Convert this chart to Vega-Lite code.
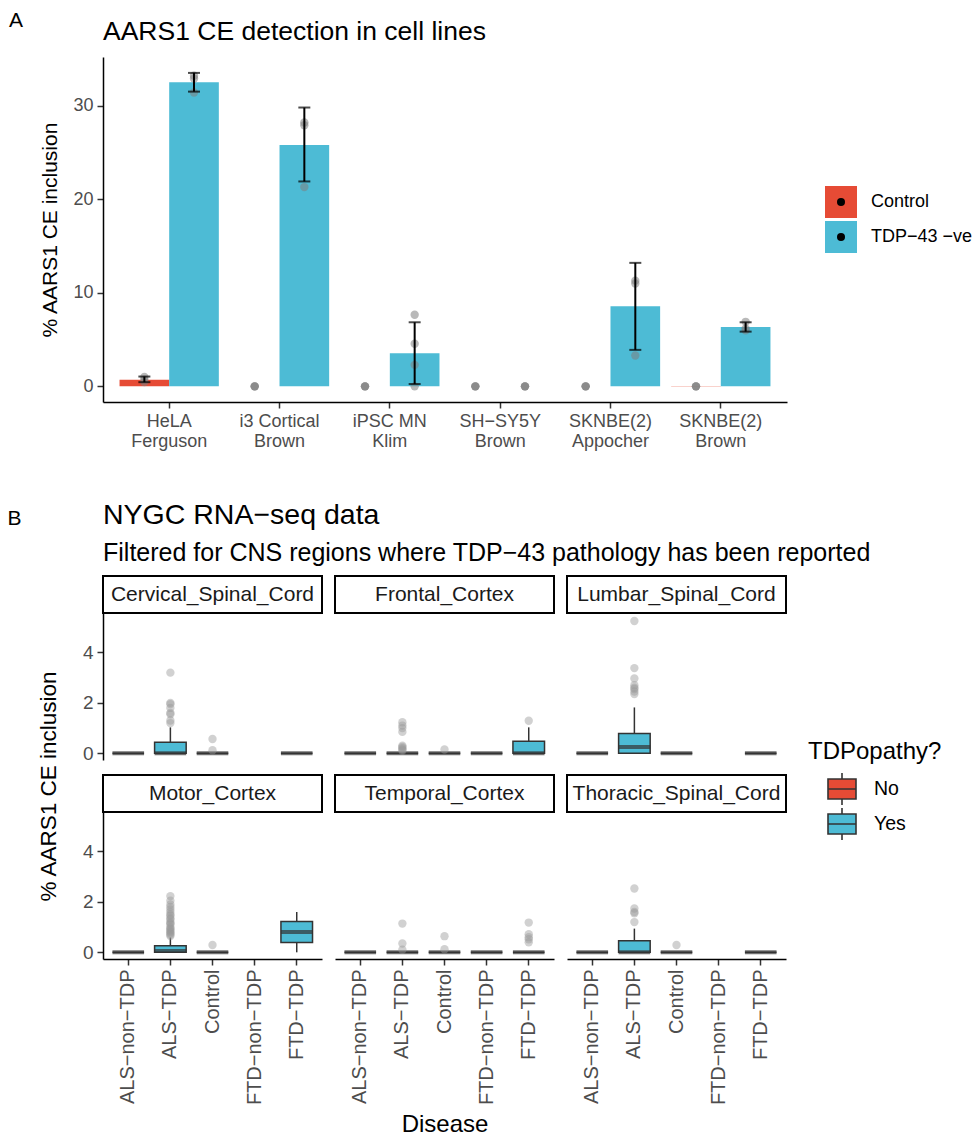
{
  "$schema": "https://vega.github.io/schema/vega-lite/v6.json",
  "background": "white",
  "padding": {"left": 7, "top": 9, "right": 0, "bottom": 0},
  "config": {
    "font": "Liberation Sans",
    "view": {"stroke": null},
    "axis": {"grid": false, "domainColor": "black", "domainWidth": 1.5, "tickColor": "#333333", "tickWidth": 1.5, "tickSize": 6, "labelColor": "#4d4d4d", "labelFontSize": 18, "titleFontSize": 21, "titleFontWeight": "normal", "titleColor": "black", "labelPadding": 4},
    "title": {"color": "black", "fontWeight": "normal"},
    "legend": {"labelFontSize": 18, "labelColor": "black", "titleFontSize": 21, "titleFontWeight": "normal", "titleColor": "black"}
  },
  "datasets": {
    "bars": [
      {"line": "HeLA|Ferguson", "cond": "Control", "mean": 0.7},
      {"line": "HeLA|Ferguson", "cond": "TDP−43 −ve", "mean": 32.5},
      {"line": "i3 Cortical|Brown", "cond": "Control", "mean": 0},
      {"line": "i3 Cortical|Brown", "cond": "TDP−43 −ve", "mean": 25.8},
      {"line": "iPSC MN|Klim", "cond": "Control", "mean": 0},
      {"line": "iPSC MN|Klim", "cond": "TDP−43 −ve", "mean": 3.55},
      {"line": "SH−SY5Y|Brown", "cond": "Control", "mean": 0},
      {"line": "SH−SY5Y|Brown", "cond": "TDP−43 −ve", "mean": 0},
      {"line": "SKNBE(2)|Appocher", "cond": "Control", "mean": 0},
      {"line": "SKNBE(2)|Appocher", "cond": "TDP−43 −ve", "mean": 8.55},
      {"line": "SKNBE(2)|Brown", "cond": "Control", "mean": 0.04},
      {"line": "SKNBE(2)|Brown", "cond": "TDP−43 −ve", "mean": 6.35}
    ],
    "errs": [
      {"line": "HeLA|Ferguson", "cond": "Control", "lo": 0.45, "hi": 1.05},
      {"line": "HeLA|Ferguson", "cond": "TDP−43 −ve", "lo": 31.5, "hi": 33.5},
      {"line": "i3 Cortical|Brown", "cond": "TDP−43 −ve", "lo": 21.9, "hi": 29.8},
      {"line": "iPSC MN|Klim", "cond": "TDP−43 −ve", "lo": 0.25, "hi": 6.85},
      {"line": "SKNBE(2)|Appocher", "cond": "TDP−43 −ve", "lo": 3.9, "hi": 13.2},
      {"line": "SKNBE(2)|Brown", "cond": "TDP−43 −ve", "lo": 5.85, "hi": 6.85}
    ],
    "pts": [
      {"line": "HeLA|Ferguson", "cond": "Control", "value": 0.45},
      {"line": "HeLA|Ferguson", "cond": "Control", "value": 0.7},
      {"line": "HeLA|Ferguson", "cond": "Control", "value": 1.0},
      {"line": "HeLA|Ferguson", "cond": "TDP−43 −ve", "value": 31.4},
      {"line": "HeLA|Ferguson", "cond": "TDP−43 −ve", "value": 32.9},
      {"line": "HeLA|Ferguson", "cond": "TDP−43 −ve", "value": 33.2},
      {"line": "i3 Cortical|Brown", "cond": "Control", "value": 0},
      {"line": "i3 Cortical|Brown", "cond": "Control", "value": 0},
      {"line": "i3 Cortical|Brown", "cond": "Control", "value": 0},
      {"line": "i3 Cortical|Brown", "cond": "TDP−43 −ve", "value": 28.2},
      {"line": "i3 Cortical|Brown", "cond": "TDP−43 −ve", "value": 27.9},
      {"line": "i3 Cortical|Brown", "cond": "TDP−43 −ve", "value": 21.3},
      {"line": "iPSC MN|Klim", "cond": "Control", "value": 0},
      {"line": "iPSC MN|Klim", "cond": "Control", "value": 0},
      {"line": "iPSC MN|Klim", "cond": "Control", "value": 0},
      {"line": "iPSC MN|Klim", "cond": "TDP−43 −ve", "value": 7.65},
      {"line": "iPSC MN|Klim", "cond": "TDP−43 −ve", "value": 4.55},
      {"line": "iPSC MN|Klim", "cond": "TDP−43 −ve", "value": 2.3},
      {"line": "iPSC MN|Klim", "cond": "TDP−43 −ve", "value": 0},
      {"line": "SH−SY5Y|Brown", "cond": "Control", "value": 0},
      {"line": "SH−SY5Y|Brown", "cond": "Control", "value": 0},
      {"line": "SH−SY5Y|Brown", "cond": "Control", "value": 0},
      {"line": "SH−SY5Y|Brown", "cond": "TDP−43 −ve", "value": 0},
      {"line": "SH−SY5Y|Brown", "cond": "TDP−43 −ve", "value": 0},
      {"line": "SH−SY5Y|Brown", "cond": "TDP−43 −ve", "value": 0},
      {"line": "SKNBE(2)|Appocher", "cond": "Control", "value": 0},
      {"line": "SKNBE(2)|Appocher", "cond": "Control", "value": 0},
      {"line": "SKNBE(2)|Appocher", "cond": "Control", "value": 0},
      {"line": "SKNBE(2)|Appocher", "cond": "TDP−43 −ve", "value": 11.3},
      {"line": "SKNBE(2)|Appocher", "cond": "TDP−43 −ve", "value": 11.0},
      {"line": "SKNBE(2)|Appocher", "cond": "TDP−43 −ve", "value": 3.3},
      {"line": "SKNBE(2)|Brown", "cond": "Control", "value": 0},
      {"line": "SKNBE(2)|Brown", "cond": "Control", "value": 0},
      {"line": "SKNBE(2)|Brown", "cond": "Control", "value": 0},
      {"line": "SKNBE(2)|Brown", "cond": "TDP−43 −ve", "value": 6.9},
      {"line": "SKNBE(2)|Brown", "cond": "TDP−43 −ve", "value": 6.2},
      {"line": "SKNBE(2)|Brown", "cond": "TDP−43 −ve", "value": 6.0}
    ],
    "strips": [
      {"region": "Cervical_Spinal_Cord"},
      {"region": "Frontal_Cortex"},
      {"region": "Lumbar_Spinal_Cord"},
      {"region": "Motor_Cortex"},
      {"region": "Temporal_Cortex"},
      {"region": "Thoracic_Spinal_Cord"}
    ],
    "bdata": [
      {"kind": "box", "region": "Cervical_Spinal_Cord", "disease": "ALS−non−TDP", "tdp": "No", "lo": 0, "q1": 0, "med": 0, "q3": 0, "hi": 0},
      {"kind": "box", "region": "Cervical_Spinal_Cord", "disease": "ALS−TDP", "tdp": "Yes", "lo": 0, "q1": 0, "med": 0, "q3": 0.44, "hi": 1.03},
      {"kind": "box", "region": "Cervical_Spinal_Cord", "disease": "Control", "tdp": "No", "lo": 0, "q1": 0, "med": 0, "q3": 0, "hi": 0},
      {"kind": "box", "region": "Cervical_Spinal_Cord", "disease": "FTD−TDP", "tdp": "Yes", "lo": 0, "q1": 0, "med": 0, "q3": 0, "hi": 0},
      {"kind": "box", "region": "Frontal_Cortex", "disease": "ALS−non−TDP", "tdp": "No", "lo": 0, "q1": 0, "med": 0, "q3": 0, "hi": 0},
      {"kind": "box", "region": "Frontal_Cortex", "disease": "ALS−TDP", "tdp": "Yes", "lo": 0, "q1": 0, "med": 0, "q3": 0, "hi": 0},
      {"kind": "box", "region": "Frontal_Cortex", "disease": "Control", "tdp": "No", "lo": 0, "q1": 0, "med": 0, "q3": 0, "hi": 0},
      {"kind": "box", "region": "Frontal_Cortex", "disease": "FTD−non−TDP", "tdp": "No", "lo": 0, "q1": 0, "med": 0, "q3": 0, "hi": 0},
      {"kind": "box", "region": "Frontal_Cortex", "disease": "FTD−TDP", "tdp": "Yes", "lo": 0, "q1": 0, "med": 0, "q3": 0.48, "hi": 1.03},
      {"kind": "box", "region": "Lumbar_Spinal_Cord", "disease": "ALS−non−TDP", "tdp": "No", "lo": 0, "q1": 0, "med": 0, "q3": 0, "hi": 0},
      {"kind": "box", "region": "Lumbar_Spinal_Cord", "disease": "ALS−TDP", "tdp": "Yes", "lo": 0, "q1": 0, "med": 0.25, "q3": 0.79, "hi": 1.82},
      {"kind": "box", "region": "Lumbar_Spinal_Cord", "disease": "Control", "tdp": "No", "lo": 0, "q1": 0, "med": 0, "q3": 0, "hi": 0},
      {"kind": "box", "region": "Lumbar_Spinal_Cord", "disease": "FTD−TDP", "tdp": "Yes", "lo": 0, "q1": 0, "med": 0, "q3": 0, "hi": 0},
      {"kind": "box", "region": "Motor_Cortex", "disease": "ALS−non−TDP", "tdp": "No", "lo": 0, "q1": 0, "med": 0, "q3": 0, "hi": 0},
      {"kind": "box", "region": "Motor_Cortex", "disease": "ALS−TDP", "tdp": "Yes", "lo": 0, "q1": 0, "med": 0.05, "q3": 0.26, "hi": 0.59},
      {"kind": "box", "region": "Motor_Cortex", "disease": "Control", "tdp": "No", "lo": 0, "q1": 0, "med": 0, "q3": 0, "hi": 0},
      {"kind": "box", "region": "Motor_Cortex", "disease": "FTD−TDP", "tdp": "Yes", "lo": 0, "q1": 0.39, "med": 0.81, "q3": 1.22, "hi": 1.6},
      {"kind": "box", "region": "Temporal_Cortex", "disease": "ALS−non−TDP", "tdp": "No", "lo": 0, "q1": 0, "med": 0, "q3": 0, "hi": 0},
      {"kind": "box", "region": "Temporal_Cortex", "disease": "ALS−TDP", "tdp": "Yes", "lo": 0, "q1": 0, "med": 0, "q3": 0, "hi": 0},
      {"kind": "box", "region": "Temporal_Cortex", "disease": "Control", "tdp": "No", "lo": 0, "q1": 0, "med": 0, "q3": 0, "hi": 0},
      {"kind": "box", "region": "Temporal_Cortex", "disease": "FTD−non−TDP", "tdp": "No", "lo": 0, "q1": 0, "med": 0, "q3": 0, "hi": 0},
      {"kind": "box", "region": "Temporal_Cortex", "disease": "FTD−TDP", "tdp": "Yes", "lo": 0, "q1": 0, "med": 0, "q3": 0, "hi": 0},
      {"kind": "box", "region": "Thoracic_Spinal_Cord", "disease": "ALS−non−TDP", "tdp": "No", "lo": 0, "q1": 0, "med": 0, "q3": 0, "hi": 0},
      {"kind": "box", "region": "Thoracic_Spinal_Cord", "disease": "ALS−TDP", "tdp": "Yes", "lo": 0, "q1": 0, "med": 0, "q3": 0.46, "hi": 0.94},
      {"kind": "box", "region": "Thoracic_Spinal_Cord", "disease": "Control", "tdp": "No", "lo": 0, "q1": 0, "med": 0, "q3": 0, "hi": 0},
      {"kind": "box", "region": "Thoracic_Spinal_Cord", "disease": "FTD−TDP", "tdp": "Yes", "lo": 0, "q1": 0, "med": 0, "q3": 0, "hi": 0},
      {"kind": "out", "region": "Cervical_Spinal_Cord", "disease": "ALS−TDP", "value": 3.2},
      {"kind": "out", "region": "Cervical_Spinal_Cord", "disease": "ALS−TDP", "value": 2.0},
      {"kind": "out", "region": "Cervical_Spinal_Cord", "disease": "ALS−TDP", "value": 1.95},
      {"kind": "out", "region": "Cervical_Spinal_Cord", "disease": "ALS−TDP", "value": 1.8},
      {"kind": "out", "region": "Cervical_Spinal_Cord", "disease": "ALS−TDP", "value": 1.6},
      {"kind": "out", "region": "Cervical_Spinal_Cord", "disease": "ALS−TDP", "value": 1.55},
      {"kind": "out", "region": "Cervical_Spinal_Cord", "disease": "ALS−TDP", "value": 1.3},
      {"kind": "out", "region": "Cervical_Spinal_Cord", "disease": "ALS−TDP", "value": 1.2},
      {"kind": "out", "region": "Cervical_Spinal_Cord", "disease": "Control", "value": 0.57},
      {"kind": "out", "region": "Cervical_Spinal_Cord", "disease": "Control", "value": 0.12},
      {"kind": "out", "region": "Frontal_Cortex", "disease": "ALS−TDP", "value": 1.23},
      {"kind": "out", "region": "Frontal_Cortex", "disease": "ALS−TDP", "value": 1.1},
      {"kind": "out", "region": "Frontal_Cortex", "disease": "ALS−TDP", "value": 1.0},
      {"kind": "out", "region": "Frontal_Cortex", "disease": "ALS−TDP", "value": 0.85},
      {"kind": "out", "region": "Frontal_Cortex", "disease": "ALS−TDP", "value": 0.3},
      {"kind": "out", "region": "Frontal_Cortex", "disease": "ALS−TDP", "value": 0.25},
      {"kind": "out", "region": "Frontal_Cortex", "disease": "ALS−TDP", "value": 0.2},
      {"kind": "out", "region": "Frontal_Cortex", "disease": "ALS−TDP", "value": 0.15},
      {"kind": "out", "region": "Frontal_Cortex", "disease": "ALS−TDP", "value": 0.1},
      {"kind": "out", "region": "Frontal_Cortex", "disease": "Control", "value": 0.15},
      {"kind": "out", "region": "Frontal_Cortex", "disease": "FTD−TDP", "value": 1.29},
      {"kind": "out", "region": "Lumbar_Spinal_Cord", "disease": "ALS−TDP", "value": 5.25},
      {"kind": "out", "region": "Lumbar_Spinal_Cord", "disease": "ALS−TDP", "value": 3.38},
      {"kind": "out", "region": "Lumbar_Spinal_Cord", "disease": "ALS−TDP", "value": 2.97},
      {"kind": "out", "region": "Lumbar_Spinal_Cord", "disease": "ALS−TDP", "value": 2.7},
      {"kind": "out", "region": "Lumbar_Spinal_Cord", "disease": "ALS−TDP", "value": 2.6},
      {"kind": "out", "region": "Lumbar_Spinal_Cord", "disease": "ALS−TDP", "value": 2.55},
      {"kind": "out", "region": "Lumbar_Spinal_Cord", "disease": "ALS−TDP", "value": 2.45},
      {"kind": "out", "region": "Lumbar_Spinal_Cord", "disease": "ALS−TDP", "value": 2.35},
      {"kind": "out", "region": "Motor_Cortex", "disease": "ALS−TDP", "value": 2.23},
      {"kind": "out", "region": "Motor_Cortex", "disease": "ALS−TDP", "value": 2.05},
      {"kind": "out", "region": "Motor_Cortex", "disease": "ALS−TDP", "value": 1.9},
      {"kind": "out", "region": "Motor_Cortex", "disease": "ALS−TDP", "value": 1.8},
      {"kind": "out", "region": "Motor_Cortex", "disease": "ALS−TDP", "value": 1.7},
      {"kind": "out", "region": "Motor_Cortex", "disease": "ALS−TDP", "value": 1.6},
      {"kind": "out", "region": "Motor_Cortex", "disease": "ALS−TDP", "value": 1.5},
      {"kind": "out", "region": "Motor_Cortex", "disease": "ALS−TDP", "value": 1.45},
      {"kind": "out", "region": "Motor_Cortex", "disease": "ALS−TDP", "value": 1.35},
      {"kind": "out", "region": "Motor_Cortex", "disease": "ALS−TDP", "value": 1.3},
      {"kind": "out", "region": "Motor_Cortex", "disease": "ALS−TDP", "value": 1.2},
      {"kind": "out", "region": "Motor_Cortex", "disease": "ALS−TDP", "value": 1.15},
      {"kind": "out", "region": "Motor_Cortex", "disease": "ALS−TDP", "value": 1.1},
      {"kind": "out", "region": "Motor_Cortex", "disease": "ALS−TDP", "value": 1.0},
      {"kind": "out", "region": "Motor_Cortex", "disease": "ALS−TDP", "value": 0.95},
      {"kind": "out", "region": "Motor_Cortex", "disease": "ALS−TDP", "value": 0.9},
      {"kind": "out", "region": "Motor_Cortex", "disease": "ALS−TDP", "value": 0.85},
      {"kind": "out", "region": "Motor_Cortex", "disease": "ALS−TDP", "value": 0.8},
      {"kind": "out", "region": "Motor_Cortex", "disease": "ALS−TDP", "value": 0.75},
      {"kind": "out", "region": "Motor_Cortex", "disease": "ALS−TDP", "value": 0.7},
      {"kind": "out", "region": "Motor_Cortex", "disease": "ALS−TDP", "value": 0.65},
      {"kind": "out", "region": "Motor_Cortex", "disease": "Control", "value": 0.29},
      {"kind": "out", "region": "Temporal_Cortex", "disease": "ALS−TDP", "value": 1.14},
      {"kind": "out", "region": "Temporal_Cortex", "disease": "ALS−TDP", "value": 0.35},
      {"kind": "out", "region": "Temporal_Cortex", "disease": "ALS−TDP", "value": 0.1},
      {"kind": "out", "region": "Temporal_Cortex", "disease": "Control", "value": 0.64},
      {"kind": "out", "region": "Temporal_Cortex", "disease": "Control", "value": 0.12},
      {"kind": "out", "region": "Temporal_Cortex", "disease": "FTD−TDP", "value": 1.18},
      {"kind": "out", "region": "Temporal_Cortex", "disease": "FTD−TDP", "value": 0.72},
      {"kind": "out", "region": "Temporal_Cortex", "disease": "FTD−TDP", "value": 0.6},
      {"kind": "out", "region": "Temporal_Cortex", "disease": "FTD−TDP", "value": 0.52},
      {"kind": "out", "region": "Temporal_Cortex", "disease": "FTD−TDP", "value": 0.4},
      {"kind": "out", "region": "Thoracic_Spinal_Cord", "disease": "ALS−TDP", "value": 2.53},
      {"kind": "out", "region": "Thoracic_Spinal_Cord", "disease": "ALS−TDP", "value": 1.74},
      {"kind": "out", "region": "Thoracic_Spinal_Cord", "disease": "ALS−TDP", "value": 1.6},
      {"kind": "out", "region": "Thoracic_Spinal_Cord", "disease": "ALS−TDP", "value": 1.55},
      {"kind": "out", "region": "Thoracic_Spinal_Cord", "disease": "ALS−TDP", "value": 1.2},
      {"kind": "out", "region": "Thoracic_Spinal_Cord", "disease": "Control", "value": 0.29}
    ]
  },
  "spacing": 50,
  "vconcat": [
    {
      "title": {"text": "A", "anchor": "start", "frame": "bounds", "fontSize": 21, "dx": -31, "offset": -12},
      "vconcat": [
        {
          "width": 684,
          "height": 345,
          "title": {"text": "AARS1 CE detection in cell lines", "anchor": "start", "frame": "group", "fontSize": 26.5, "offset": 12},
          "encoding": {
            "x": {"field": "line", "type": "nominal", "sort": ["HeLA|Ferguson", "i3 Cortical|Brown", "iPSC MN|Klim", "SH−SY5Y|Brown", "SKNBE(2)|Appocher", "SKNBE(2)|Brown"], "scale": {"paddingInner": 0.1, "paddingOuter": 0.15}, "axis": {"title": null, "labelAngle": 0, "labelExpr": "split(datum.label, '|')", "labelLineHeight": 20}},
            "xOffset": {"field": "cond", "type": "nominal", "sort": ["Control", "TDP−43 −ve"], "scale": {"paddingInner": 0, "paddingOuter": 0}}
          },
          "layer": [
            {
              "data": {"name": "bars"},
              "mark": {"type": "bar"},
              "encoding": {
                "y": {"field": "mean", "type": "quantitative", "scale": {"domain": [-1.67, 35.2], "nice": false, "zero": false}, "axis": {"title": "% AARS1 CE inclusion", "values": [0, 10, 20, 30], "titlePadding": 12}},
                "y2": {"datum": 0},
                "color": {"field": "cond", "type": "nominal", "scale": {"domain": ["Control", "TDP−43 −ve"], "range": ["#E64B35", "#4DBBD5"]}, "legend": {"title": null, "orient": "none", "legendX": 722, "legendY": 129, "symbolType": "square", "symbolSize": 1024, "symbolStrokeWidth": 0, "rowPadding": 3, "labelOffset": 14}}
              }
            },
            {
              "data": {"name": "bars"},
              "mark": {"type": "point", "shape": "circle", "filled": true, "color": "black", "opacity": 1, "size": 0},
              "encoding": {
                "y": {"field": "mean", "type": "quantitative"},
                "shape": {"field": "cond", "type": "nominal", "scale": {"domain": ["Control", "TDP−43 −ve", " "], "range": ["circle", "circle", "circle"]}, "legend": {"title": null, "values": ["Control", "TDP−43 −ve"], "orient": "none", "legendX": 734, "legendY": 141, "symbolSize": 64, "symbolFillColor": "black", "symbolStrokeWidth": 0, "labelExpr": "''", "labelFontSize": 1, "labelOffset": 0, "rowPadding": 27}}
              }
            },
            {
              "data": {"name": "pts"},
              "mark": {"type": "circle", "color": "#808080", "opacity": 0.55, "size": 70},
              "encoding": {"y": {"field": "value", "type": "quantitative"}}
            },
            {
              "data": {"name": "errs"},
              "mark": {"type": "rule", "color": "black", "strokeWidth": 2},
              "encoding": {"y": {"field": "lo", "type": "quantitative"}, "y2": {"field": "hi"}}
            },
            {
              "data": {"name": "errs"},
              "mark": {"type": "tick", "color": "black", "thickness": 2, "size": 12},
              "encoding": {"y": {"field": "lo", "type": "quantitative"}}
            },
            {
              "data": {"name": "errs"},
              "mark": {"type": "tick", "color": "black", "thickness": 2, "size": 12},
              "encoding": {"y": {"field": "hi", "type": "quantitative"}}
            }
          ]
        }
      ]
    },
    {
      "title": {"text": "B", "anchor": "start", "frame": "bounds", "fontSize": 21, "dx": -30, "offset": -28},
      "vconcat": [
        {
          "title": {"text": "NYGC RNA−seq data", "subtitle": "Filtered for CNS regions where TDP−43 pathology has been reported", "anchor": "start", "frame": "group", "fontSize": 28.5, "subtitleFontSize": 25, "subtitleColor": "black", "subtitlePadding": 12, "offset": 9},
          "bounds": "flush",
          "columns": 3,
          "spacing": {"row": 0, "column": 13},
          "concat": [
            {"width": 219, "height": 37, "data": {"name": "strips"}, "transform": [{"filter": "datum.region == 'Cervical_Spinal_Cord'"}], "view": {"stroke": "black", "strokeWidth": 2}, "mark": {"type": "text", "fontSize": 21, "color": "#1a1a1a"}, "encoding": {"text": {"field": "region", "type": "nominal"}}},
            {"width": 219, "height": 37, "data": {"name": "strips"}, "transform": [{"filter": "datum.region == 'Frontal_Cortex'"}], "view": {"stroke": "black", "strokeWidth": 2}, "mark": {"type": "text", "fontSize": 21, "color": "#1a1a1a"}, "encoding": {"text": {"field": "region", "type": "nominal"}}},
            {"width": 219, "height": 37, "data": {"name": "strips"}, "transform": [{"filter": "datum.region == 'Lumbar_Spinal_Cord'"}], "view": {"stroke": "black", "strokeWidth": 2}, "mark": {"type": "text", "fontSize": 21, "color": "#1a1a1a"}, "encoding": {"text": {"field": "region", "type": "nominal"}}},
            {
              "width": 219, "height": 147,
              "data": {"name": "bdata"},
              "transform": [{"filter": "datum.region == 'Cervical_Spinal_Cord'"}],
              "encoding": {"x": {"field": "disease", "type": "nominal", "scale": {"domain": ["ALS−non−TDP", "ALS−TDP", "Control", "FTD−non−TDP", "FTD−TDP"], "paddingInner": 0.25, "paddingOuter": 0.225}, "axis": null}},
              "layer": [
                {"transform": [{"filter": "datum.kind == 'box'"}], "mark": {"type": "rule", "color": "#333333", "strokeWidth": 1.5}, "encoding": {"y": {"field": "lo", "type": "quantitative", "scale": {"domain": [-0.265, 5.565], "nice": false, "zero": false}, "axis": {"title": "% AARS1 CE inclusion", "values": [0, 2, 4], "labelFontSize": 19, "titleFontSize": 22.5, "titleY": 173, "titlePadding": 22}}, "y2": {"field": "hi"}}},
                {"transform": [{"filter": "datum.kind == 'box'"}], "mark": {"type": "bar", "stroke": "#333333", "strokeWidth": 1.5}, "encoding": {"y": {"field": "q1", "type": "quantitative"}, "y2": {"field": "q3"}, "fill": {"field": "tdp", "type": "nominal", "scale": {"domain": ["No", "Yes"], "range": ["#E64B35", "#4DBBD5"]}, "legend": {"title": "TDPopathy?", "orient": "none", "legendX": 705, "legendY": 683, "symbolType": "M0.9,-1L3.7,-1L3.7,1L0.9,1Z M0.9,0L3.7,0 M2.3,-1L2.3,-1.6 M2.3,1L2.3,1.6", "symbolSize": 400, "symbolStrokeColor": "#333333", "symbolStrokeWidth": 1.6, "rowPadding": -5, "labelOffset": 44, "titlePadding": 14, "titleFontSize": 24, "labelFontSize": 19.5}}}},
                {"transform": [{"filter": "datum.kind == 'box'"}], "mark": {"type": "tick", "color": "#333333", "thickness": 4, "size": 31.6}, "encoding": {"y": {"field": "med", "type": "quantitative"}}},
                {"transform": [{"filter": "datum.kind == 'out'"}], "mark": {"type": "circle", "color": "#9a9a9a", "opacity": 0.45, "size": 70}, "encoding": {"y": {"field": "value", "type": "quantitative"}}}
              ]
            },
            {
              "width": 219, "height": 147,
              "data": {"name": "bdata"},
              "transform": [{"filter": "datum.region == 'Frontal_Cortex'"}],
              "encoding": {"x": {"field": "disease", "type": "nominal", "scale": {"domain": ["ALS−non−TDP", "ALS−TDP", "Control", "FTD−non−TDP", "FTD−TDP"], "paddingInner": 0.25, "paddingOuter": 0.225}, "axis": null}},
              "layer": [
                {"transform": [{"filter": "datum.kind == 'box'"}], "mark": {"type": "rule", "color": "#333333", "strokeWidth": 1.5}, "encoding": {"y": {"field": "lo", "type": "quantitative", "scale": {"domain": [-0.265, 5.565], "nice": false, "zero": false}, "axis": null}, "y2": {"field": "hi"}}},
                {"transform": [{"filter": "datum.kind == 'box'"}], "mark": {"type": "bar", "stroke": "#333333", "strokeWidth": 1.5}, "encoding": {"y": {"field": "q1", "type": "quantitative", "axis": null}, "y2": {"field": "q3"}, "fill": {"field": "tdp", "type": "nominal"}}},
                {"transform": [{"filter": "datum.kind == 'box'"}], "mark": {"type": "tick", "color": "#333333", "thickness": 4, "size": 31.6}, "encoding": {"y": {"field": "med", "type": "quantitative", "axis": null}}},
                {"transform": [{"filter": "datum.kind == 'out'"}], "mark": {"type": "circle", "color": "#9a9a9a", "opacity": 0.45, "size": 70}, "encoding": {"y": {"field": "value", "type": "quantitative", "axis": null}}}
              ]
            },
            {
              "width": 219, "height": 147,
              "data": {"name": "bdata"},
              "transform": [{"filter": "datum.region == 'Lumbar_Spinal_Cord'"}],
              "encoding": {"x": {"field": "disease", "type": "nominal", "scale": {"domain": ["ALS−non−TDP", "ALS−TDP", "Control", "FTD−non−TDP", "FTD−TDP"], "paddingInner": 0.25, "paddingOuter": 0.225}, "axis": null}},
              "layer": [
                {"transform": [{"filter": "datum.kind == 'box'"}], "mark": {"type": "rule", "color": "#333333", "strokeWidth": 1.5}, "encoding": {"y": {"field": "lo", "type": "quantitative", "scale": {"domain": [-0.265, 5.565], "nice": false, "zero": false}, "axis": null}, "y2": {"field": "hi"}}},
                {"transform": [{"filter": "datum.kind == 'box'"}], "mark": {"type": "bar", "stroke": "#333333", "strokeWidth": 1.5}, "encoding": {"y": {"field": "q1", "type": "quantitative", "axis": null}, "y2": {"field": "q3"}, "fill": {"field": "tdp", "type": "nominal"}}},
                {"transform": [{"filter": "datum.kind == 'box'"}], "mark": {"type": "tick", "color": "#333333", "thickness": 4, "size": 31.6}, "encoding": {"y": {"field": "med", "type": "quantitative", "axis": null}}},
                {"transform": [{"filter": "datum.kind == 'out'"}], "mark": {"type": "circle", "color": "#9a9a9a", "opacity": 0.45, "size": 70}, "encoding": {"y": {"field": "value", "type": "quantitative", "axis": null}}}
              ]
            },
            {"width": 219, "height": 15, "data": {"values": []}, "mark": {"type": "point", "opacity": 0}},
            {"width": 219, "height": 15, "data": {"values": []}, "mark": {"type": "point", "opacity": 0}},
            {"width": 219, "height": 15, "data": {"values": []}, "mark": {"type": "point", "opacity": 0}},
            {"width": 219, "height": 37, "data": {"name": "strips"}, "transform": [{"filter": "datum.region == 'Motor_Cortex'"}], "view": {"stroke": "black", "strokeWidth": 2}, "mark": {"type": "text", "fontSize": 21, "color": "#1a1a1a"}, "encoding": {"text": {"field": "region", "type": "nominal"}}},
            {"width": 219, "height": 37, "data": {"name": "strips"}, "transform": [{"filter": "datum.region == 'Temporal_Cortex'"}], "view": {"stroke": "black", "strokeWidth": 2}, "mark": {"type": "text", "fontSize": 21, "color": "#1a1a1a"}, "encoding": {"text": {"field": "region", "type": "nominal"}}},
            {"width": 219, "height": 37, "data": {"name": "strips"}, "transform": [{"filter": "datum.region == 'Thoracic_Spinal_Cord'"}], "view": {"stroke": "black", "strokeWidth": 2}, "mark": {"type": "text", "fontSize": 21, "color": "#1a1a1a"}, "encoding": {"text": {"field": "region", "type": "nominal"}}},
            {
              "width": 219, "height": 147,
              "data": {"name": "bdata"},
              "transform": [{"filter": "datum.region == 'Motor_Cortex'"}],
              "encoding": {"x": {"field": "disease", "type": "nominal", "scale": {"domain": ["ALS−non−TDP", "ALS−TDP", "Control", "FTD−non−TDP", "FTD−TDP"], "paddingInner": 0.25, "paddingOuter": 0.225}, "axis": {"title": null, "labelAngle": -90, "labelFontSize": 20}}},
              "layer": [
                {"transform": [{"filter": "datum.kind == 'box'"}], "mark": {"type": "rule", "color": "#333333", "strokeWidth": 1.5}, "encoding": {"y": {"field": "lo", "type": "quantitative", "scale": {"domain": [-0.265, 5.565], "nice": false, "zero": false}, "axis": {"title": null, "values": [0, 2, 4], "labelFontSize": 19}}, "y2": {"field": "hi"}}},
                {"transform": [{"filter": "datum.kind == 'box'"}], "mark": {"type": "bar", "stroke": "#333333", "strokeWidth": 1.5}, "encoding": {"y": {"field": "q1", "type": "quantitative"}, "y2": {"field": "q3"}, "fill": {"field": "tdp", "type": "nominal"}}},
                {"transform": [{"filter": "datum.kind == 'box'"}], "mark": {"type": "tick", "color": "#333333", "thickness": 4, "size": 31.6}, "encoding": {"y": {"field": "med", "type": "quantitative"}}},
                {"transform": [{"filter": "datum.kind == 'out'"}], "mark": {"type": "circle", "color": "#9a9a9a", "opacity": 0.45, "size": 70}, "encoding": {"y": {"field": "value", "type": "quantitative"}}}
              ]
            },
            {
              "width": 219, "height": 147,
              "data": {"name": "bdata"},
              "transform": [{"filter": "datum.region == 'Temporal_Cortex'"}],
              "encoding": {"x": {"field": "disease", "type": "nominal", "scale": {"domain": ["ALS−non−TDP", "ALS−TDP", "Control", "FTD−non−TDP", "FTD−TDP"], "paddingInner": 0.25, "paddingOuter": 0.225}, "axis": {"title": "Disease", "labelAngle": -90, "labelFontSize": 20, "titleFontSize": 24, "titlePadding": 8}}},
              "layer": [
                {"transform": [{"filter": "datum.kind == 'box'"}], "mark": {"type": "rule", "color": "#333333", "strokeWidth": 1.5}, "encoding": {"y": {"field": "lo", "type": "quantitative", "scale": {"domain": [-0.265, 5.565], "nice": false, "zero": false}, "axis": null}, "y2": {"field": "hi"}}},
                {"transform": [{"filter": "datum.kind == 'box'"}], "mark": {"type": "bar", "stroke": "#333333", "strokeWidth": 1.5}, "encoding": {"y": {"field": "q1", "type": "quantitative", "axis": null}, "y2": {"field": "q3"}, "fill": {"field": "tdp", "type": "nominal"}}},
                {"transform": [{"filter": "datum.kind == 'box'"}], "mark": {"type": "tick", "color": "#333333", "thickness": 4, "size": 31.6}, "encoding": {"y": {"field": "med", "type": "quantitative", "axis": null}}},
                {"transform": [{"filter": "datum.kind == 'out'"}], "mark": {"type": "circle", "color": "#9a9a9a", "opacity": 0.45, "size": 70}, "encoding": {"y": {"field": "value", "type": "quantitative", "axis": null}}}
              ]
            },
            {
              "width": 219, "height": 147,
              "data": {"name": "bdata"},
              "transform": [{"filter": "datum.region == 'Thoracic_Spinal_Cord'"}],
              "encoding": {"x": {"field": "disease", "type": "nominal", "scale": {"domain": ["ALS−non−TDP", "ALS−TDP", "Control", "FTD−non−TDP", "FTD−TDP"], "paddingInner": 0.25, "paddingOuter": 0.225}, "axis": {"title": null, "labelAngle": -90, "labelFontSize": 20}}},
              "layer": [
                {"transform": [{"filter": "datum.kind == 'box'"}], "mark": {"type": "rule", "color": "#333333", "strokeWidth": 1.5}, "encoding": {"y": {"field": "lo", "type": "quantitative", "scale": {"domain": [-0.265, 5.565], "nice": false, "zero": false}, "axis": null}, "y2": {"field": "hi"}}},
                {"transform": [{"filter": "datum.kind == 'box'"}], "mark": {"type": "bar", "stroke": "#333333", "strokeWidth": 1.5}, "encoding": {"y": {"field": "q1", "type": "quantitative", "axis": null}, "y2": {"field": "q3"}, "fill": {"field": "tdp", "type": "nominal"}}},
                {"transform": [{"filter": "datum.kind == 'box'"}], "mark": {"type": "tick", "color": "#333333", "thickness": 4, "size": 31.6}, "encoding": {"y": {"field": "med", "type": "quantitative", "axis": null}}},
                {"transform": [{"filter": "datum.kind == 'out'"}], "mark": {"type": "circle", "color": "#9a9a9a", "opacity": 0.45, "size": 70}, "encoding": {"y": {"field": "value", "type": "quantitative", "axis": null}}}
              ]
            }
          ]
        }
      ]
    }
  ]
}
